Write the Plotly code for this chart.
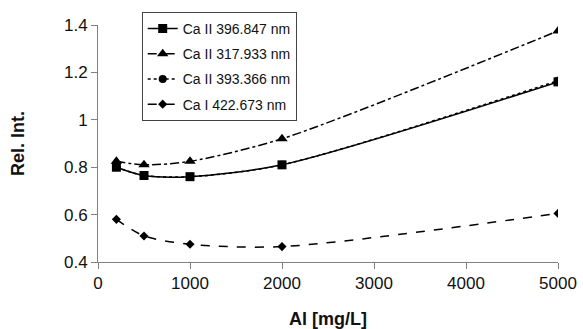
import plotly.graph_objects as go

x_vals = [200, 500, 1000, 2000, 5000]
ca_396 = [0.80, 0.765, 0.76, 0.81, 1.16]
ca_317 = [0.825, 0.81, 0.825, 0.92, 1.375]
ca_393 = [0.80, 0.765, 0.76, 0.81, 1.165]
ca_422 = [0.58, 0.51, 0.475, 0.465, 0.605]

series = [
    ("Ca II 396.847 nm", ca_396, "solid", "square", 9),
    ("Ca II 317.933 nm", ca_317, "dashdot", "triangle-up", 10),
    ("Ca II 393.366 nm", ca_393, "dot", "circle", 8),
    ("Ca I 422.673 nm", ca_422, "dash", "diamond", 7),
]

fig = go.Figure()
for i, (name, ys, dash, sym, sz) in enumerate(series):
    fig.add_trace(go.Scatter(
        x=x_vals, y=ys, name=name, mode="lines+markers",
        line=dict(color="black", width=1.5, dash=dash, shape="spline", smoothing=0.8),
        marker=dict(symbol=sym, size=sz, color="black"),
        legendgroup=f"g{i}",
    ))

axis_common = dict(
    showgrid=False, zeroline=False, showline=True, linecolor="#808080", linewidth=1,
    ticks="outside", tickcolor="#808080", ticklen=6, automargin=False,
    tickfont=dict(family="Liberation Sans, Arial", size=17, color="#111"),
)

fig.update_layout(
    width=583, height=329,
    margin=dict(l=98, r=25, t=23, b=67),
    paper_bgcolor="white", plot_bgcolor="white",
    showlegend=True,
    legend=dict(
        x=0.095, y=1.055, xanchor="left", yanchor="top",
        bordercolor="#444", borderwidth=1, bgcolor="white",
        font=dict(family="Liberation Sans, Arial", size=14, color="#111"),
        traceorder="grouped", tracegroupgap=4, itemwidth=30,
    ),
    xaxis=dict(range=[0, 5000], tickvals=[0, 1000, 2000, 3000, 4000, 5000],
               title=dict(text="<b>Al [mg/L]</b>", font=dict(family="Liberation Sans, Arial", size=18, color="#111"), standoff=20),
               **axis_common),
    yaxis=dict(range=[0.4, 1.4], tickvals=[0.4, 0.6, 0.8, 1, 1.2, 1.4],
               ticktext=["0.4", "0.6", "0.8", "1", "1.2", "1.4"],
               title=dict(text="<b>Rel. Int.</b>", font=dict(family="Liberation Sans, Arial", size=18, color="#111"), standoff=34),
               **axis_common),
)

fig.write_html("out.html")
